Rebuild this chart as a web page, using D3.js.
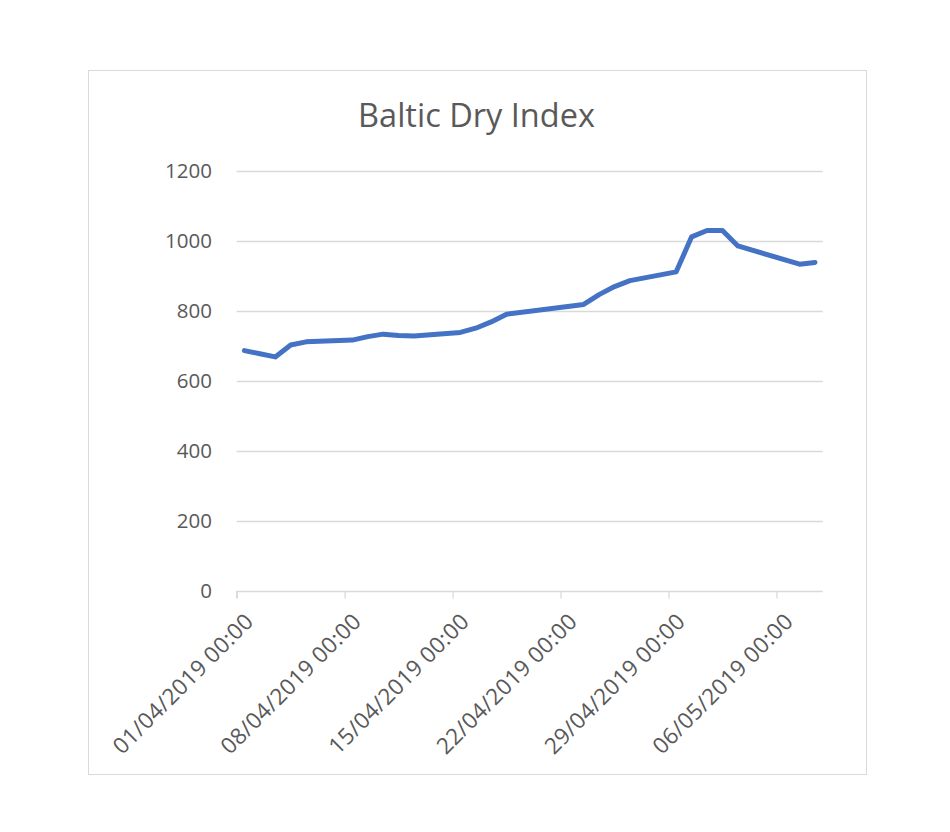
<!DOCTYPE html>
<html>
<head>
<meta charset="utf-8">
<script src="https://cdn.jsdelivr.net/npm/d3@7"></script>
<style>
  html, body { margin: 0; padding: 0; background: #ffffff; }
  svg { display: block; }
  text { font-family: "Open Sans", "Noto Sans", sans-serif; fill: #595959; }
</style>
</head>
<body>
<svg id="chart" width="950" height="832"></svg>
<script>
const title = "Baltic Dry Index";
const dates = ["2019-04-01","2019-04-02","2019-04-03","2019-04-04","2019-04-05",
               "2019-04-08","2019-04-09","2019-04-10","2019-04-11","2019-04-12",
               "2019-04-15","2019-04-16","2019-04-17","2019-04-18",
               "2019-04-23","2019-04-24","2019-04-25","2019-04-26",
               "2019-04-29","2019-04-30","2019-05-01","2019-05-02","2019-05-03",
               "2019-05-07","2019-05-08"];
const values = [686,677,668,702,711,
                716,726,733,729,728,
                738,750,768,790,
                818,846,869,886,
                911,1011,1029,1029,985,
                933,938];
const axisStart = "2019-04-01";
const axisEnd = "2019-05-09";
const xTickDates = ["2019-04-01","2019-04-08","2019-04-15","2019-04-22","2019-04-29","2019-05-06"];
const yTicks = [0,200,400,600,800,1000,1200];

const parse = d3.utcParse("%Y-%m-%d");
const fmt = d3.utcFormat("%d/%m/%Y %H:%M");
const data = dates.map((d, i) => ({ date: parse(d), value: values[i] }));

const svg = d3.select("#chart");

// chart frame
svg.append("rect")
  .attr("x", 88.5).attr("y", 70.5)
  .attr("width", 778).attr("height", 704)
  .attr("fill", "#ffffff").attr("stroke", "#d9d9d9").attr("stroke-width", 1);

const x = d3.scaleUtc()
  .domain([parse(axisStart), parse(axisEnd)])
  .range([236.7, 822.7]);
const y = d3.scaleLinear().domain([0, 1200]).range([590.7, 170.7]);

// gridlines
svg.append("g").selectAll("line").data(yTicks.filter(t => t > 0)).join("line")
  .attr("x1", x.range()[0]).attr("x2", x.range()[1])
  .attr("y1", d => Math.round(y(d)) + 0.5).attr("y2", d => Math.round(y(d)) + 0.5)
  .attr("stroke", "#d9d9d9").attr("stroke-width", 1.3);

// y axis labels
svg.append("g").selectAll("text").data(yTicks).join("text")
  .attr("x", 212).attr("y", d => y(d))
  .attr("dy", "0.35em")
  .attr("text-anchor", "end")
  .attr("font-size", 20.5)
  .text(d => d);

// x axis
const xTicks = xTickDates.map(parse);
const xAxis = d3.axisBottom(x).tickValues(xTicks).tickSize(7).tickFormat("");
const gx = svg.append("g").attr("transform", `translate(0,${Math.round(y(0)) + 0.5})`).call(xAxis);
gx.select(".domain").attr("stroke", "#d9d9d9").attr("stroke-width", 1.3)
  .attr("d", `M${x.range()[0]},7V0H${x.range()[1]}`);
gx.selectAll(".tick line").attr("stroke", "#d9d9d9").attr("stroke-width", 1.3);

svg.append("g").selectAll("text").data(xTicks).join("text")
  .attr("text-anchor", "end")
  .attr("font-size", 22.5)
  .attr("letter-spacing", 0.3)
  .attr("transform", d => `translate(${x(d) + 18},${623}) rotate(-45)`)
  .text(d => fmt(d));

// line
const halfDay = 12 * 3600 * 1000;
const line = d3.line()
  .x(d => x(new Date(d.date.getTime() + halfDay)))
  .y(d => y(d.value));
svg.append("path").datum(data)
  .attr("d", line)
  .attr("fill", "none")
  .attr("stroke", "#4472c4")
  .attr("stroke-width", 5)
  .attr("stroke-linejoin", "round")
  .attr("stroke-linecap", "round");

// title
svg.append("text")
  .attr("x", 476.5).attr("y", 126.5)
  .attr("text-anchor", "middle")
  .attr("font-size", 32.5)
  .text(title);
</script>
</body>
</html>
